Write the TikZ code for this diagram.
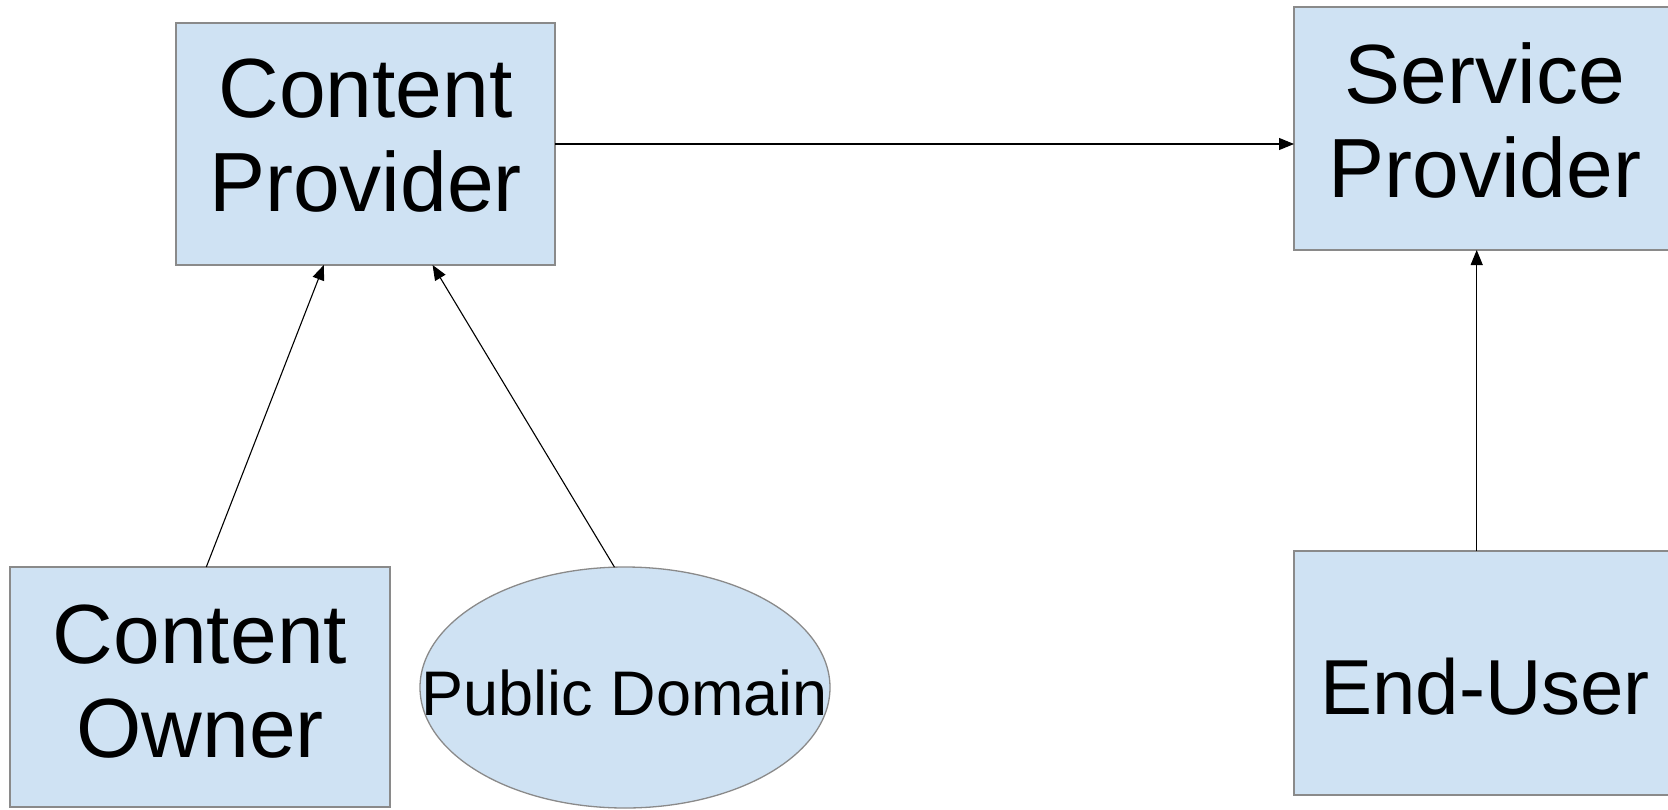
\documentclass[tikz,border=0pt]{standalone}
\usepackage{fontspec}
\setmainfont{Liberation Sans}
\usetikzlibrary{arrows.meta,shapes.geometric}
\definecolor{boxfill}{HTML}{CFE2F3}
\definecolor{boxline}{HTML}{8A8A8A}
\begin{document}
\begin{tikzpicture}[x=1pt,y=-1pt,
  box/.style={draw=boxline,fill=boxfill,line width=1.3pt,rectangle,inner sep=0pt,outer sep=0pt,align=center,
    font=\fontsize{84}{94}\selectfont},
  oval/.style={draw=boxline,fill=boxfill,line width=1.3pt,ellipse,inner sep=0pt,outer sep=0pt,
    font=\fontsize{63}{70}\selectfont},
  arr/.style={draw=black,line width=1.1pt,-{Triangle[length=15pt,width=12pt]}}]
\useasboundingbox (0,0) rectangle (1668,809);
\node[box,minimum width=379pt,minimum height=242pt,text height=134pt,text depth=0pt] (cp) at (365.5,144) {Content\\Provider};
\node[box,minimum width=382pt,minimum height=243pt,text height=137pt,text depth=0pt] (sp) at (1485,128.5) {Service\\Provider};
\node[box,minimum width=380pt,minimum height=240pt,text height=140pt,text depth=0pt] (co) at (200,687) {Content\\Owner};
\node[box,minimum width=382pt,minimum height=244pt,text height=82pt,text depth=0pt,font=\fontsize{78}{88}\selectfont] (eu) at (1485,673) {End-User};
\node[oval,minimum width=410pt,minimum height=241pt,text height=55pt,text depth=0pt] (pd) at (625,687.5) {\makebox[0pt]{Public Domain}};
\draw[arr] (cp.east) -- (sp.west |- cp.east);
\draw[arr] (co.87.6) -- (cp.251.7);
\draw[arr] (pd.95) -- (cp.299);
\draw[arr] ([xshift=-8.3pt]eu.north) -- ([xshift=-8.3pt]sp.south);
\end{tikzpicture}
\end{document}
